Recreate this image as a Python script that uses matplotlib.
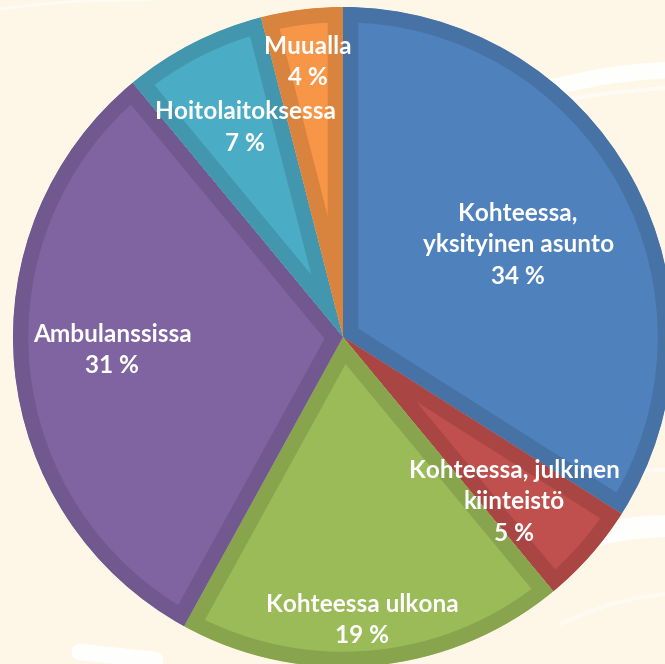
import matplotlib
matplotlib.use("Agg")
import matplotlib.pyplot as plt
import numpy as np
from matplotlib.colors import to_rgb
from matplotlib.patches import Wedge

categories = ["Kohteessa,\nyksityinen asunto", "Kohteessa, julkinen\nkiinteistö",
              "Kohteessa ulkona", "Ambulanssissa", "Hoitolaitoksessa", "Muualla"]
values = [34, 5, 19, 31, 7, 4]
colors = ["#4F81BD", "#C0504D", "#9BBB59", "#8064A2", "#4BACC6", "#F79646"]
label_radius = [0.60, 0.72, 0.86, 0.70, 0.70, 0.84]
label_angle_shift = [-1.0, -2.5, -1.5, -2.2, -2.0, 0.0]

W, H = 665, 664
fig = plt.figure(figsize=(W / 100, H / 100), dpi=100)
bg = "#FEF6E6"
fig.patch.set_facecolor(bg)
ax = fig.add_axes([0, 0, 1, 1])
ax.set_facecolor(bg)

# faint white swooshes in background (y measured upward)
t = np.linspace(0, 1, 200)
for (x0, y0, x1, y1, bend, lw, a) in [
    (550, 576, 665, 594, 3, 12, 0.95),
    (540, 560, 665, 576, 2, 3, 0.6),
    (590, 128, 665, 138, 2, 16, 0.95),
    (560, 190, 665, 194, 2, 3, 0.6),
    (560, 40, 665, 70, 5, 3, 0.5),
    (80, 12, 155, 4, 0, 12, 0.95),
    (0, 655, 150, 664, 3, 2, 0.6),
]:
    xs = x0 + (x1 - x0) * t
    ys = y0 + (y1 - y0) * t + bend * np.sin(np.pi * t)
    ax.plot(xs, ys, color="white", lw=lw, alpha=a, solid_capstyle="round", zorder=0)

cx, cy, R = 343, 327, 330
wedges, _ = ax.pie(values, colors=colors, startangle=90, counterclock=False,
                   center=(cx, cy), radius=R, frame=True)
ax.set_aspect("equal")
ax.set_xlim(0, W)
ax.set_ylim(0, H)
ax.axis("off")
for w, c in zip(wedges, colors):
    dark = tuple(v * 0.88 for v in to_rgb(c))
    w.set_edgecolor(dark)
    w.set_linewidth(22)
    w.set_joinstyle("miter")
    clip = Wedge(w.center, w.r, w.theta1, w.theta2, transform=ax.transData)
    w.set_clip_on(True)
    w.set_clip_path(clip)
    w.set_zorder(2)

total = sum(values)
cum = 0
for lab, v, rr, sh in zip(categories, values, label_radius, label_angle_shift):
    mid = 90 - (cum + v / 2) / total * 360 + sh
    cum += v
    x = cx + rr * R * np.cos(np.radians(mid))
    y = cy + rr * R * np.sin(np.radians(mid))
    ax.text(x, y, f"{lab}\n{v} %", ha="center", va="center", color="white",
            fontsize=17.6, fontweight="bold", family="Lato", linespacing=1.45, zorder=5)

fig.savefig("out.png", dpi=100, facecolor=bg)
